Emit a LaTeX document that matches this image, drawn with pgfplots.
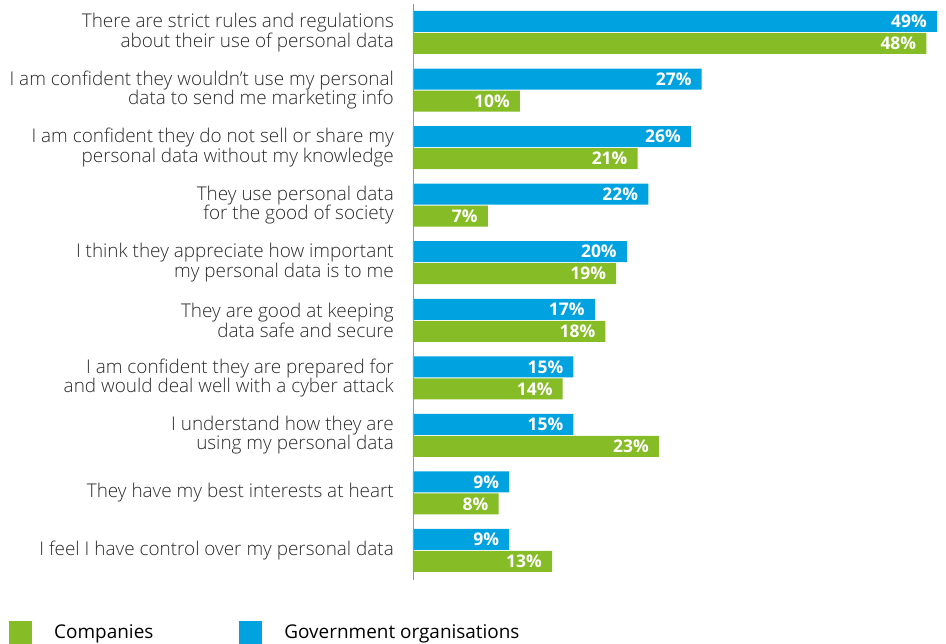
\documentclass[border=0pt]{standalone}
\usepackage{pgfplots}
\pgfplotsset{compat=1.18}
\usepackage{fontspec}
\setmainfont{Open Sans}
\IfFontExistsTF{Open Sans Light}{\newfontfamily\labfont{Open Sans Light}}{\newfontfamily\labfont{Open Sans}}
\definecolor{govblue}{HTML}{00A3E0}
\definecolor{compgreen}{HTML}{86BC25}
\definecolor{labgray}{HTML}{2A2A2A}
\begin{document}
\begin{tikzpicture}
\begin{axis}[
  at={(413bp,0bp)}, anchor=south west,
  scale only axis,
  width=524bp, height=644bp,
  xmin=0, xmax=49,
  ymin=0, ymax=644, y dir=reverse,
  clip=false,
  axis line style={draw=none},
  xtick=\empty,
  ytick={32.5,90.05,147.6,205.15,262.7,320.25,377.8,435.35,492.9,550.45},
  yticklabels={{There are strict rules and regulations\\about their use of personal data},
    {I am confident they wouldn’t use my personal\\data to send me marketing info},
    {I am confident they do not sell or share my\\personal data without my knowledge},
    {They use personal data\\for the good of society},
    {I think they appreciate how important\\my personal data is to me},
    {They are good at keeping\\data safe and secure},
    {I am confident they are prepared for\\and would deal well with a cyber attack},
    {I understand how they are\\using my personal data},
    {They have my best interests at heart},
    {I feel I have control over my personal data}},
  major tick length=0pt,
  yticklabel style={align=right, font=\labfont\fontsize{19}{19.5}\selectfont, text=labgray, anchor=east, inner sep=0pt, xshift=-19bp},
  xbar, bar width=21bp, bar shift=0pt,
  point meta=x,
  nodes near coords={\pgfmathprintnumber{\pgfplotspointmeta}\%},
  every node near coord/.append style={anchor=east, text=white, font=\fontsize{17.5}{19}\bfseries\selectfont, inner sep=0pt, xshift=-10bp, /pgf/number format/assume math mode=true},
  legend style={at={(axis description cs:-0.7766,0.0)}, anchor=south west, yshift=-2bp, draw=none, fill=none, legend columns=2,
    font=\fontsize{19}{19.5}\selectfont, text=black,
    /tikz/every odd column/.append style={column sep=20bp},
    /tikz/every even column/.append style={column sep=84bp}},
  legend cell align=left,
  legend image code/.code={\fill[#1,draw=none] (0bp,-11.5bp) rectangle (23bp,11.5bp);},
]
\addplot[fill=compgreen, draw=none] coordinates {
(48,43.5) (10,101.05) (21,158.6) (7,216.15) (19,273.7) (18,331.25) (14,388.8) (23,446.35) (8,503.9) (13,561.45)};
\addlegendentry{Companies}
\addplot[fill=govblue, draw=none] coordinates {
(49,21.5) (27,79.05) (26,136.6) (22,194.15) (20,251.7) (17,309.25) (15,366.8) (15,424.35) (9,481.9) (9,539.45)};
\addlegendentry{Government organisations}
\draw[gray!80, line width=1pt] (axis cs:0,4) -- (axis cs:0,580);
\end{axis}
\pgfresetboundingbox
\path (0bp,0bp) rectangle (946bp,644bp);
\end{tikzpicture}
\end{document}
